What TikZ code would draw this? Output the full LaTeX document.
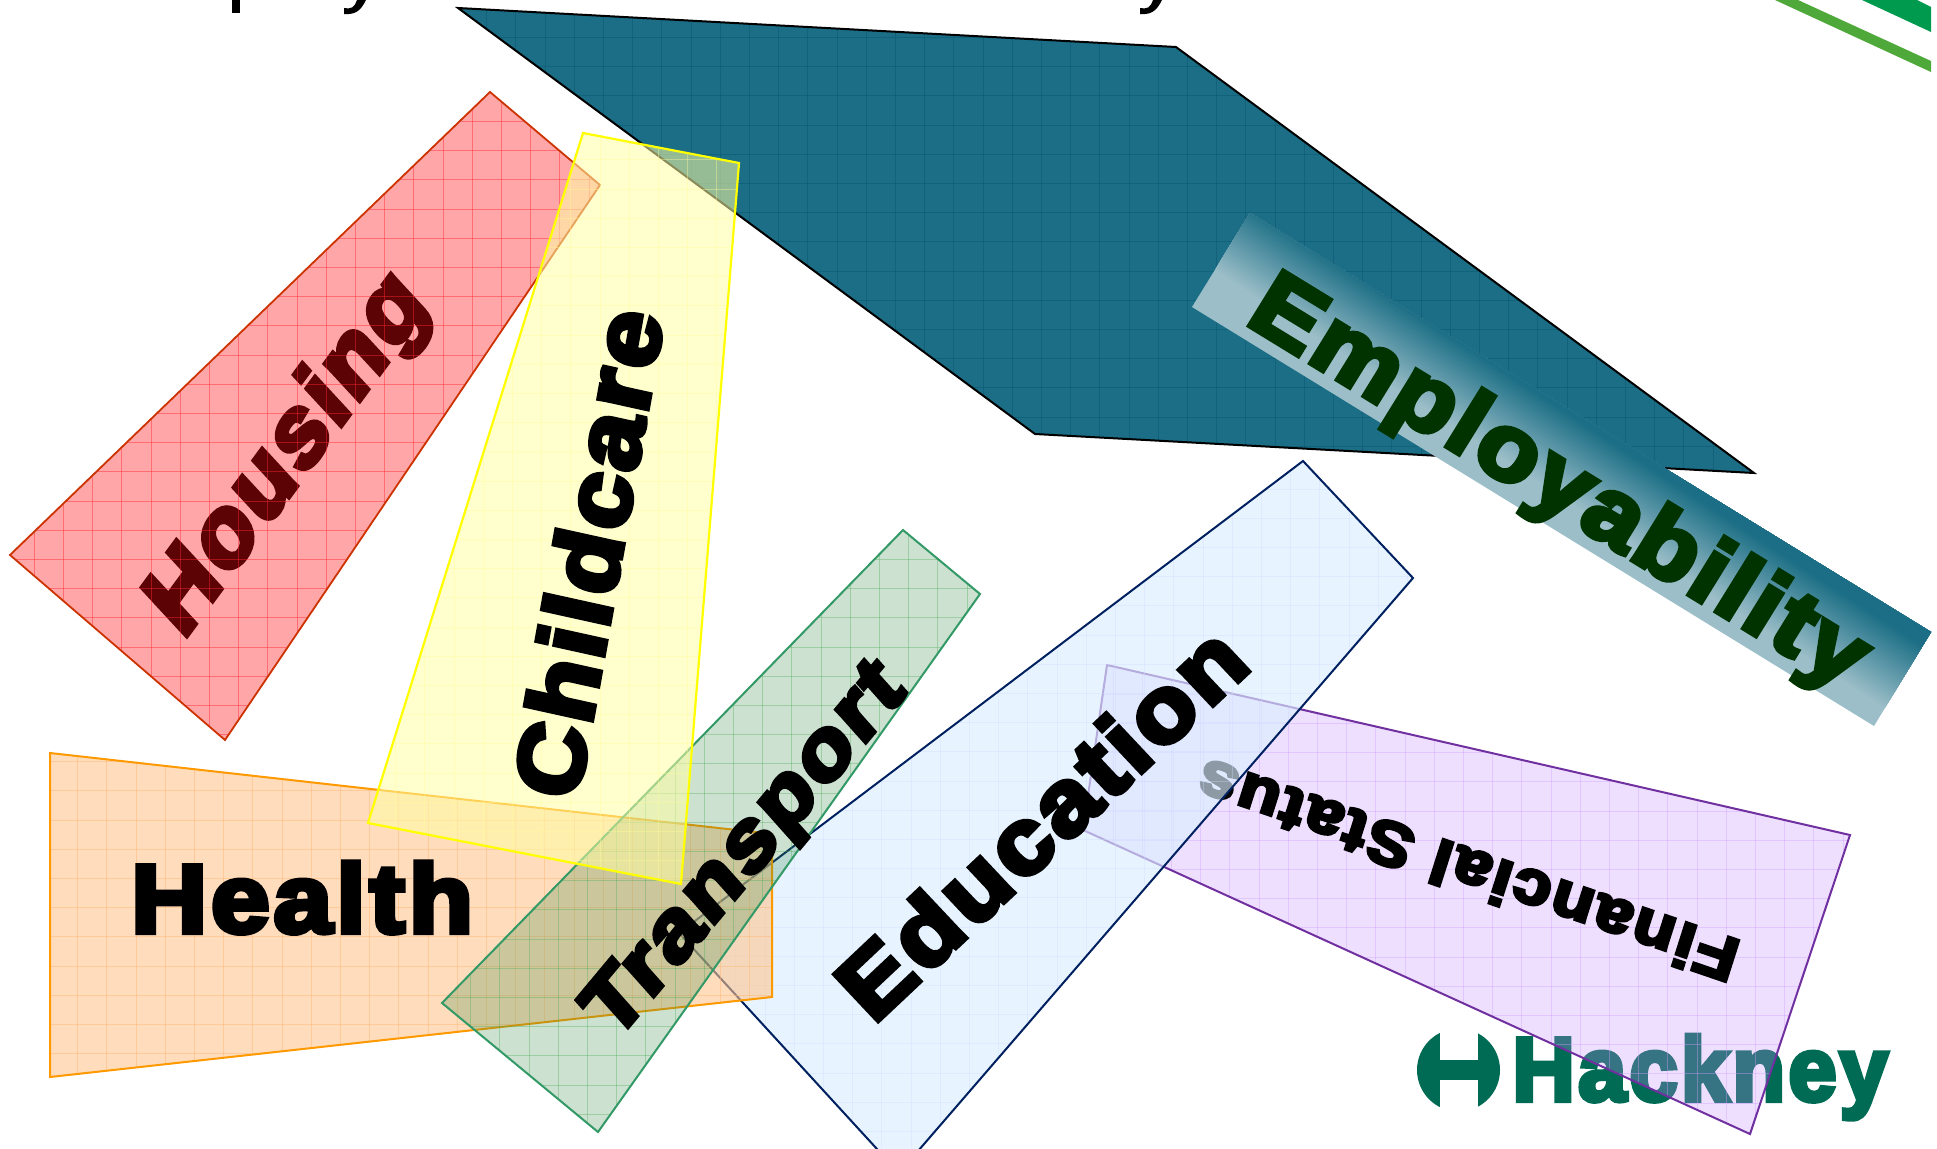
\documentclass[tikz,border=0pt]{standalone}
\usepackage{fontspec}
\newfontfamily\blkfam{Liberation Sans}[BoldFeatures={FakeBold=5.5},LetterSpace=4]
\newcommand{\wafont}{\blkfam\bfseries\fontsize{100}{100}\selectfont}
\newsavebox{\wabox}
\newlength{\waW}
\newlength{\waH}
\definecolor{tealfill}{RGB}{27,110,133}
\definecolor{tealgrid}{RGB}{8,88,112}
\definecolor{bannerpale}{RGB}{155,190,200}
\definecolor{empgreen}{RGB}{0,51,0}
\definecolor{redfill}{RGB}{255,10,15}
\definecolor{redline}{RGB}{204,51,0}
\definecolor{redgrid}{RGB}{255,40,50}
\definecolor{yelfill}{RGB}{255,255,164}
\definecolor{yelline}{RGB}{255,255,0}
\definecolor{yelgrid}{RGB}{255,250,150}
\definecolor{orfill}{RGB}{255,196,140}
\definecolor{orline}{RGB}{255,153,0}
\definecolor{orgrid}{RGB}{255,185,120}
\definecolor{grfill}{RGB}{50,135,65}
\definecolor{grline}{RGB}{51,153,102}
\definecolor{grgrid}{RGB}{70,170,80}
\definecolor{edfill}{RGB}{218,238,255}
\definecolor{edline}{RGB}{0,32,96}
\definecolor{edgrid}{RGB}{205,220,255}
\definecolor{pufill}{RGB}{196,140,255}
\definecolor{puline}{RGB}{112,48,160}
\definecolor{pugrid}{RGB}{205,160,255}
\definecolor{logogreen}{RGB}{0,107,84}
\definecolor{stripedark}{RGB}{0,154,78}
\definecolor{stripelight}{RGB}{78,168,58}
% polygon, fill, fill opacity, line colour, line width, grid colour, grid opacity, grid offset x, grid offset y
\newcommand{\panel}[9]{%
  \fill[#2,fill opacity=#3] #1;
  \begin{scope}
    \clip #1;
    \foreach \gi in {0,...,66}{\draw[#6,opacity=#7,line width=.8pt] ({#8+29.2*\gi},0) -- ({#8+29.2*\gi},1148);}
    \foreach \gi in {0,...,39}{\draw[#6,opacity=#7,line width=.8pt] (0,{#9+29.2*\gi}) -- (1937,{#9+29.2*\gi});}
  \end{scope}
  \draw[#4,line width=#5pt,line join=miter] #1;
}
% name, baseline start x y, baseline end x y, cap vector x y, colour, text
\newcommand{\wart}[9]{%
  \sbox{\wabox}{\pgfinterruptpicture\wafont #9\endpgfinterruptpicture}%
  \setlength{\waW}{\wd\wabox}\addtolength{\waW}{2pt}%
  \sbox{\wabox}{\pgfinterruptpicture\wafont H\endpgfinterruptpicture}%
  \setlength{\waH}{\ht\wabox}\addtolength{\waH}{5.5pt}%
  \pgfmathsetmacro\cmA{(#4-#2)/\waW}%
  \pgfmathsetmacro\cmB{-(#5-#3)/\waW}%
  \pgfmathsetmacro\cmC{#6/\waH}%
  \pgfmathsetmacro\cmD{-(#7)/\waH}%
  \begin{scope}
    \pgftransformcm{\cmA}{\cmB}{\cmC}{\cmD}{\pgfpoint{#2pt}{-#3pt}}
    \node[transform shape,anchor=base west,inner sep=0pt,outer sep=0pt,text=#8] (#1) at (3,-2.75) {\wafont #9};
  \end{scope}
}
\begin{document}
\begin{tikzpicture}[x=1pt,y=-1pt]
\useasboundingbox (0,0) rectangle (1937,1148);
\clip (0,0) rectangle (1931,1148);
% cut-off line of text at the top edge
\fill (232,0) rectangle (240,13);
\fill (357,0) .. controls (354,8) and (352,9) .. (344,8) -- (344,14) .. controls (356,15) and (361,10) .. (366,0) -- cycle;
\fill (1153,0) .. controls (1150,8) and (1148,9) .. (1140,8) -- (1140,14) .. controls (1152,15) and (1157,10) .. (1162,0) -- cycle;
% stripes in the corner
\fill[stripelight] (1775,0) -- (1798,0) -- (1931,61) -- (1931,72) -- cycle;
\fill[stripedark] (1862,0) -- (1917,0) -- (1931,7) -- (1931,32) -- cycle;
% logo
\begin{scope}
  \clip (1458.5,1070) circle[radius=41.5];
  \fill[logogreen] (1410,1020) rectangle (1440,1120);
  \fill[logogreen] (1478,1020) rectangle (1510,1120);
  \fill[logogreen] (1440,1060) rectangle (1478,1080);
\end{scope}
\wart{hackney}{1510}{1103}{1887}{1103}{0}{-67}{logogreen}{Hackney}
% employability panel
\panel{(458,8)--(1176,47)--(1754,473)--(1035,434)--cycle}{tealfill}{1}{black}{2}{tealgrid}{.5}{19.4}{8.1}
\begin{scope}
  \clip (1250,213) -- (1931,632) -- (1874,726) -- (1192,307) -- cycle;
  \fill[bannerpale] (1100,150) rectangle (1937,800);
  \begin{scope}[shift={(1561.5,469.5)},rotate=-33.2]
    \foreach \k in {1,...,40}{
      \pgfmathsetmacro\stripy{24-74*\k/40}
      \pgfmathsetmacro\strippc{2.5*\k}
      \fill[tealfill!\strippc!bannerpale] (-700,\stripy) rectangle (700,-200);
    }
  \end{scope}
\end{scope}
\wart{employ}{1240}{323}{1843}{692}{36.5}{-59}{empgreen}{Employability}
% housing
\wart{housing}{183}{645}{430}{309}{-48}{-52}{black}{Housing}
\panel{(490,92)--(600,185)--(225,740)--(10,555)--cycle}{redfill}{.36}{redline}{1.8}{redgrid}{.45}{4.9}{4.5}
% financial
\panel{(1107,665)--(1850,835)--(1750,1134)--(1083,830)--cycle}{pufill}{.28}{puline}{2}{pugrid}{.4}{3.3}{22.5}
\wart{financial}{1745}{941}{1207}{757}{-14}{44}{black}{Financial Status}
% education
\panel{(679,933)--(1303,461)--(1413,578)--(899,1173)--cycle}{edfill}{.65}{edline}{2}{edgrid}{.35}{5.7}{21.8}
% health
\panel{(50,753)--(772,834)--(772,997)--(50,1077)--cycle}{orfill}{.59}{orline}{2}{orgrid}{.5}{19.2}{2.3}
% transport
\panel{(903,530)--(980,594)--(598,1132)--(442,1003)--cycle}{grfill}{.25}{grline}{2}{grgrid}{.35}{3.3}{4.5}
% childcare
\panel{(583,133)--(739,163)--(681,884)--(368,823)--cycle}{yelfill}{.54}{yelline}{2.2}{yelgrid}{.4}{16}{13.8}
% words on top
\wart{health}{128}{935}{472}{935}{0}{-72}{black}{Health}
\wart{childcare}{579}{806}{666}{319}{-68}{-15}{black}{Childcare}
\wart{transport}{614}{1047}{908}{695}{-41}{-46}{black}{Transport}
\wart{education}{873}{1029}{1254}{670}{-47}{-50}{black}{Education}
\end{tikzpicture}
\end{document}
